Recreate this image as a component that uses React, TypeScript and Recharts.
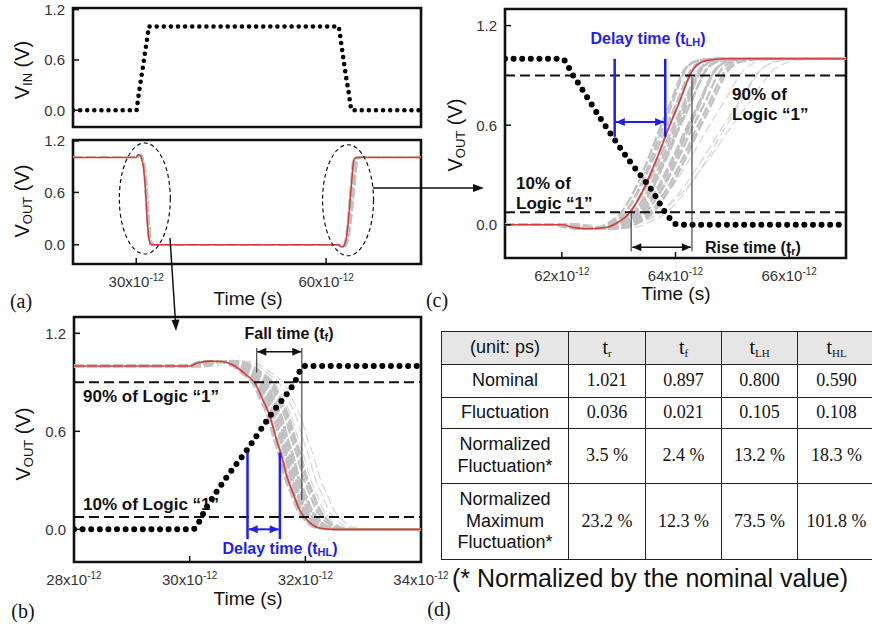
import React from "react";
import {
  LineChart, Line, XAxis, YAxis, ReferenceLine, ReferenceArea, ReferenceDot,
} from "recharts";

type Pt = { t: number; v: number };

const SANS = "'Liberation Sans', Arial, Helvetica, sans-serif";
const SERIF = "'Liberation Serif', 'Times New Roman', serif";
const RED = "#d23c3c";
const BLUE = "#1f1fe8";
const GRAY = "#c2c2c2";
const FAINT = "#d8d8d8";

// input pulse (b) and (c)  (time in ps, volts)
const VIN_RISE: Pt[] = [
  { t: 28, v: 0 }, { t: 30.05, v: 0 }, { t: 30.3, v: 0.14 }, { t: 30.6, v: 0.3 },
  { t: 31.0, v: 0.49 }, { t: 31.4, v: 0.7 }, { t: 31.8, v: 0.89 }, { t: 31.98, v: 1.0 },
  { t: 34, v: 1.0 },
];
const VIN_FALL: Pt[] = [
  { t: 61, v: 1.0 }, { t: 62.0, v: 1.0 }, { t: 62.2, v: 0.9 }, { t: 62.7, v: 0.63 },
  { t: 63.2, v: 0.38 }, { t: 63.6, v: 0.2 }, { t: 63.85, v: 0.06 }, { t: 64.05, v: 0 },
  { t: 67, v: 0 },
];

// nominal output (red)
const VOUT_FALL: Pt[] = [
  { t: 28, v: 1.0 }, { t: 30.0, v: 1.0 }, { t: 30.15, v: 1.02 }, { t: 30.35, v: 1.03 },
  { t: 30.55, v: 1.028 }, { t: 30.75, v: 1.006 }, { t: 30.98, v: 0.945 }, { t: 31.13, v: 0.894 },
  { t: 31.27, v: 0.79 }, { t: 31.39, v: 0.69 }, { t: 31.5, v: 0.55 }, { t: 31.59, v: 0.45 },
  { t: 31.68, v: 0.325 }, { t: 31.79, v: 0.22 }, { t: 31.9, v: 0.12 }, { t: 32.05, v: 0.05 },
  { t: 32.22, v: 0.01 }, { t: 32.5, v: 0 }, { t: 34, v: 0 },
];
const VOUT_RISE: Pt[] = [
  { t: 61, v: 0 }, { t: 62.0, v: 0 }, { t: 62.2, v: -0.015 }, { t: 62.4, v: -0.024 },
  { t: 62.78, v: -0.016 }, { t: 63.01, v: 0.02 }, { t: 63.16, v: 0.06 }, { t: 63.25, v: 0.1 },
  { t: 63.37, v: 0.17 }, { t: 63.49, v: 0.25 }, { t: 63.6, v: 0.34 }, { t: 63.72, v: 0.44 },
  { t: 63.84, v: 0.55 }, { t: 63.96, v: 0.65 }, { t: 64.08, v: 0.75 }, { t: 64.19, v: 0.85 },
  { t: 64.28, v: 0.92 }, { t: 64.37, v: 0.96 }, { t: 64.55, v: 0.99 }, { t: 64.85, v: 1.0 },
  { t: 67, v: 1.0 },
];

// monte-carlo runs (gray): delay offset + slope stretch of each run vs nominal
const FALL_RUN_SHIFT = [-0.04, -0.01, 0.02, 0.04, 0.06, 0.08, 0.1, 0.12, 0.14, 0.16, 0.18, 0.2, 0.23, 0.26, 0.3];
const FALL_RUN_STRETCH = [1.0, 1.03, 0.97, 1.05, 1.0, 1.04, 0.98, 1.06, 1.0, 1.05, 1.02, 1.0, 1.06, 1.08, 1.05];
const FALL_FAINT_SHIFT = [0.33, 0.4, 0.47];
const FALL_FAINT_STRETCH = [1.08, 1.1, 1.12];
const RISE_RUN_SHIFT = [-0.15, -0.1, -0.06, -0.03, 0.0, 0.03, 0.06, 0.09, 0.12, 0.15, 0.18, 0.22, 0.26, 0.3, 0.35];
const RISE_RUN_STRETCH = [1.0, 1.05, 0.95, 1.1, 1.0, 1.15, 1.05, 1.1, 1.2, 1.0, 1.15, 1.2, 1.1, 1.2, 1.2];
const RISE_FAINT_SHIFT = [0.2, 0.35, 0.5, 0.3];
const RISE_FAINT_STRETCH = [1.5, 1.6, 1.5, 1.8];

// axes
const V_TICKS = [0, 0.6, 1.2];
const A_TIME_TICKS = [30, 60];
const B_TIME_TICKS = [28, 30, 32, 34];
const C_TIME_TICKS = [62, 64, 66];

// table (d)
const COL_SUBS = ["r", "f", "LH", "HL"];
const NOMINAL = [1.021, 0.897, 0.8, 0.59];
const FLUCT = [0.036, 0.021, 0.105, 0.108];
const NORM_FLUCT = [3.5, 2.4, 13.2, 18.3];
const NORM_MAX_FLUCT = [23.2, 12.3, 73.5, 101.8];

function run(base: Pt[], t0: number, shift: number, stretch: number): Pt[] {
  return base.map((p, i) => {
    if (i === 0 || i === base.length - 1) return p;
    return { t: p.t + shift + Math.max(0, p.t - t0) * (stretch - 1), v: p.v };
  });
}

const fallRuns = FALL_RUN_SHIFT.map((s, i) => run(VOUT_FALL, 30.9, s, FALL_RUN_STRETCH[i]));
const fallFaint = FALL_FAINT_SHIFT.map((s, i) => run(VOUT_FALL, 30.9, s, FALL_FAINT_STRETCH[i]));
const riseRuns = RISE_RUN_SHIFT.map((s, i) => run(VOUT_RISE, 62.9, s, RISE_RUN_STRETCH[i]));
const riseFaint = RISE_FAINT_SHIFT.map((s, i) => run(VOUT_RISE, 62.9, s, RISE_FAINT_STRETCH[i]));

const vinFull: Pt[] = [{ t: 20, v: 0 }, ...VIN_RISE, ...VIN_FALL, { t: 75, v: 0 }];
const voutFull: Pt[] = [{ t: 20, v: 1 }, ...VOUT_FALL, ...VOUT_RISE, { t: 75, v: 1 }];
const fullRuns = fallRuns.map((r, i) => [{ t: 20, v: 1 }, ...r, ...riseRuns[i], { t: 75, v: 1 }]);

function YTick(props: any) {
  const { x, y, payload } = props;
  return (
    <g>
      <line x1={x + 7} x2={x + 13} y1={y} y2={y} stroke="#111" strokeWidth={1.5} />
      <text x={x - 1} y={y} dy="0.36em" textAnchor="end" fontSize={15} fill="#333" fontFamily={SANS}>
        {Number(payload.value).toFixed(1)}
      </text>
    </g>
  );
}

function XTick(props: any) {
  const { x, y, payload } = props;
  return (
    <g>
      <line x1={x} x2={x} y1={y - 10} y2={y - 16} stroke="#111" strokeWidth={1.5} />
      <text x={x} y={y + 2} dy="0.71em" textAnchor="middle" fontSize={15} fill="#333" fontFamily={SANS}>
        {payload.value}x10<tspan dy={-6} fontSize={10}>-12</tspan>
      </text>
    </g>
  );
}

function arrow(color: string, width: number, both = true) {
  return (p: any) => {
    const { x1, y1, x2, y2 } = p;
    const a = Math.atan2(y2 - y1, x2 - x1);
    const head = (x: number, y: number, ang: number) => {
      const bx = x - 9 * Math.cos(ang), by = y - 9 * Math.sin(ang);
      const px = 4 * Math.sin(ang), py = 4 * Math.cos(ang);
      return `${x},${y} ${bx - px},${by + py} ${bx + px},${by - py}`;
    };
    return (
      <g>
        <line x1={x1} y1={y1} x2={x2} y2={y2} stroke={color} strokeWidth={width} />
        <polygon points={head(x2, y2, a)} fill={color} />
        {both && <polygon points={head(x1, y1, a + Math.PI)} fill={color} />}
      </g>
    );
  };
}

function ellipse(rx: number, ry: number) {
  return (p: any) => (
    <ellipse cx={p.cx} cy={p.cy} rx={rx} ry={ry} fill="none" stroke="#111" strokeWidth={1.2} strokeDasharray="4 3" />
  );
}

function grayLines(runs: Pt[][], faint: Pt[][], prefix: string, w = 2.4) {
  return [
    ...faint.map((d, i) => (
      <Line key={`${prefix}f${i}`} data={d} dataKey="v" type="monotone" stroke={FAINT} strokeWidth={1.3}
        strokeDasharray="9 4" dot={false} activeDot={false} isAnimationActive={false} />
    )),
    ...runs.map((d, i) => (
      <Line key={`${prefix}r${i}`} data={d} dataKey="v" type="monotone" stroke={GRAY} strokeWidth={w}
        strokeDasharray="10 3" dot={false} activeDot={false} isAnimationActive={false} />
    )),
  ];
}

const frame = (x1: number, x2: number, y1: number, y2: number) => (
  <ReferenceArea x1={x1} x2={x2} y1={y1} y2={y2} fill="none" stroke="#111" strokeWidth={2.6} ifOverflow="visible" />
);

const dashed = { stroke: "#111", strokeWidth: 2, strokeDasharray: "10 5" };

export default function App() {
  const abs = (left: number, top: number): React.CSSProperties => ({ position: "absolute", left, top });
  const cell: React.CSSProperties = {
    border: "1.5px solid #222", padding: 0, textAlign: "center", verticalAlign: "middle",
    fontFamily: SERIF, fontSize: 18, color: "#111", lineHeight: 1.2,
  };
  const labelCell: React.CSSProperties = { ...cell, fontFamily: SANS, fontSize: 18 };
  const rows: { label: string[]; values: string[]; h: number }[] = [
    { label: ["Nominal"], values: NOMINAL.map((v) => v.toFixed(3)), h: 33 },
    { label: ["Fluctuation"], values: FLUCT.map((v) => v.toFixed(3)), h: 31 },
    { label: ["Normalized", "Fluctuation*"], values: NORM_FLUCT.map((v) => `${v.toFixed(1)} %`), h: 55 },
    { label: ["Normalized", "Maximum", "Fluctuation*"], values: NORM_MAX_FLUCT.map((v) => `${v.toFixed(1)} %`), h: 76 },
  ];

  return (
    <div style={{ position: "absolute", left: 0, top: 0, width: 872, height: 628, background: "#fff", overflow: "hidden" }}>
      {/* (a) input */}
      <div style={abs(0, 0)}>
        <LineChart width={430} height={135} margin={{ top: 8, right: 9, bottom: 8, left: 28 }}>
          <XAxis type="number" dataKey="t" domain={[20, 75]} hide allowDataOverflow />
          <YAxis type="number" domain={[-0.2, 1.22]} ticks={V_TICKS} width={45} tickSize={0} tickMargin={7}
            tickLine={false} axisLine={false} tick={<YTick />} allowDataOverflow />
          <Line data={vinFull} dataKey="v" type="linear" stroke="#000" strokeWidth={4.6} strokeDasharray="0 7.1"
            strokeLinecap="round" dot={false} activeDot={false} isAnimationActive={false} />
          {frame(20, 75, -0.2, 1.22)}
        </LineChart>
      </div>

      {/* (a) output */}
      <div style={abs(0, 132)}>
        <LineChart width={430} height={160} margin={{ top: 8, right: 9, bottom: 0, left: 28 }}>
          <XAxis type="number" dataKey="t" domain={[20, 75]} ticks={A_TIME_TICKS} height={28} tickSize={0}
            tickMargin={10} tickLine={false} axisLine={false} tick={<XTick />} allowDataOverflow />
          <YAxis type="number" domain={[-0.22, 1.2]} ticks={V_TICKS} width={45} tickSize={0} tickMargin={7}
            tickLine={false} axisLine={false} tick={<YTick />} allowDataOverflow />
          {grayLines(fullRuns, [], "a", 1.3)}
          <Line data={voutFull} dataKey="v" type="monotone" stroke={RED} strokeWidth={1.5}
            dot={false} activeDot={false} isAnimationActive={false} />
          <ReferenceDot x={31.35} y={0.53} shape={ellipse(25.5, 55.5)} />
          <ReferenceDot x={63.47} y={0.51} shape={ellipse(25.5, 55.5)} />
          {frame(20, 75, -0.22, 1.2)}
        </LineChart>
      </div>

      {/* (b) falling output */}
      <div style={abs(0, 309)}>
        <LineChart width={460} height={285} margin={{ top: 8, right: 39, bottom: 4, left: 29 }}>
          <XAxis type="number" dataKey="t" domain={[28, 34]} ticks={B_TIME_TICKS} height={28} tickSize={0}
            tickMargin={10} tickLine={false} axisLine={false} tick={<XTick />} allowDataOverflow />
          <YAxis type="number" domain={[-0.2, 1.3]} ticks={V_TICKS} width={45} tickSize={0} tickMargin={7}
            tickLine={false} axisLine={false} tick={<YTick />} allowDataOverflow />
          {grayLines(fallRuns, fallFaint, "b")}
          <Line data={VOUT_FALL} dataKey="v" type="monotone" stroke={RED} strokeWidth={1.6}
            dot={false} activeDot={false} isAnimationActive={false} />
          <ReferenceLine y={0.9} {...dashed} />
          <ReferenceLine y={0.075} {...dashed} />
          <Line data={VIN_RISE} dataKey="v" type="monotone" stroke="#000" strokeWidth={6} strokeDasharray="0 8.6"
            strokeLinecap="round" dot={false} activeDot={false} isAnimationActive={false} />
          <ReferenceLine segment={[{ x: 31.16, y: 1.11 }, { x: 31.16, y: 0.96 }]} stroke="#222" strokeWidth={1} />
          <ReferenceLine segment={[{ x: 31.94, y: 1.11 }, { x: 31.94, y: 0.18 }]} stroke="#222" strokeWidth={1} />
          <ReferenceLine segment={[{ x: 31.17, y: 1.087 }, { x: 31.93, y: 1.087 }]} shape={arrow("#111", 1.5)} />
          <ReferenceLine segment={[{ x: 31.0, y: 0.47 }, { x: 31.0, y: -0.06 }]} stroke={BLUE} strokeWidth={2.5} />
          <ReferenceLine segment={[{ x: 31.56, y: 0.47 }, { x: 31.56, y: -0.06 }]} stroke={BLUE} strokeWidth={2.5} />
          <ReferenceLine segment={[{ x: 31.02, y: 0.0 }, { x: 31.54, y: 0.0 }]} shape={arrow(BLUE, 2)} />
          {frame(28, 34, -0.2, 1.3)}
        </LineChart>
      </div>

      {/* (c) rising output */}
      <div style={abs(440, 0)}>
        <LineChart width={432} height={286} margin={{ top: 9, right: 26, bottom: 0, left: 20 }}>
          <XAxis type="number" dataKey="t" domain={[61, 67]} ticks={C_TIME_TICKS} height={28} tickSize={0}
            tickMargin={10} tickLine={false} axisLine={false} tick={<XTick />} allowDataOverflow />
          <YAxis type="number" domain={[-0.2, 1.3]} ticks={V_TICKS} width={45} tickSize={0} tickMargin={7}
            tickLine={false} axisLine={false} tick={<YTick />} allowDataOverflow />
          {grayLines(riseRuns, riseFaint, "c")}
          <Line data={VOUT_RISE} dataKey="v" type="monotone" stroke={RED} strokeWidth={1.6}
            dot={false} activeDot={false} isAnimationActive={false} />
          <ReferenceLine y={0.9} {...dashed} />
          <ReferenceLine y={0.075} {...dashed} />
          <Line data={VIN_FALL} dataKey="v" type="monotone" stroke="#000" strokeWidth={6} strokeDasharray="0 8.6"
            strokeLinecap="round" dot={false} activeDot={false} isAnimationActive={false} />
          <ReferenceLine segment={[{ x: 62.93, y: 1.0 }, { x: 62.93, y: 0.53 }]} stroke={BLUE} strokeWidth={2.5} />
          <ReferenceLine segment={[{ x: 63.82, y: 1.0 }, { x: 63.82, y: 0.53 }]} stroke={BLUE} strokeWidth={2.5} />
          <ReferenceLine segment={[{ x: 62.95, y: 0.62 }, { x: 63.8, y: 0.62 }]} shape={arrow(BLUE, 2)} />
          <ReferenceLine segment={[{ x: 63.22, y: 0.07 }, { x: 63.22, y: -0.16 }]} stroke="#222" strokeWidth={1} />
          <ReferenceLine segment={[{ x: 64.29, y: 0.89 }, { x: 64.29, y: -0.16 }]} stroke="#222" strokeWidth={1} />
          <ReferenceLine segment={[{ x: 63.24, y: -0.135 }, { x: 64.27, y: -0.135 }]} shape={arrow("#111", 1.5)} />
          {frame(61, 67, -0.2, 1.3)}
        </LineChart>
      </div>

      {/* titles, panel letters, annotations */}
      <svg width={872} height={628} style={{ position: "absolute", left: 0, top: 0, pointerEvents: "none" }}>
        <g fontFamily={SANS} fill="#111" fontSize={20}>
          <text x={22} y={70} transform="rotate(-90 22 70)" textAnchor="middle" dominantBaseline="central">
            V<tspan fontSize={13} dy={5}>IN</tspan><tspan dy={-5}> (V)</tspan>
          </text>
          <text x={22} y={201} transform="rotate(-90 22 201)" textAnchor="middle" dominantBaseline="central">
            V<tspan fontSize={13} dy={5}>OUT</tspan><tspan dy={-5}> (V)</tspan>
          </text>
          <text x={23} y={444} transform="rotate(-90 23 444)" textAnchor="middle" dominantBaseline="central">
            V<tspan fontSize={13} dy={5}>OUT</tspan><tspan dy={-5}> (V)</tspan>
          </text>
          <text x={455} y={135} transform="rotate(-90 455 135)" textAnchor="middle" dominantBaseline="central">
            V<tspan fontSize={13} dy={5}>OUT</tspan><tspan dy={-5}> (V)</tspan>
          </text>
          <text x={248} y={298} fontSize={19} textAnchor="middle" dominantBaseline="central">Time (s)</text>
          <text x={248} y={598} fontSize={19} textAnchor="middle" dominantBaseline="central">Time (s)</text>
          <text x={676} y={293} fontSize={19} textAnchor="middle" dominantBaseline="central">Time (s)</text>
        </g>
        <g fontFamily={SERIF} fill="#111" fontSize={20}>
          <text x={21} y={301} textAnchor="middle" dominantBaseline="central">(a)</text>
          <text x={23} y={611} textAnchor="middle" dominantBaseline="central">(b)</text>
          <text x={437} y={300} textAnchor="middle" dominantBaseline="central">(c)</text>
          <text x={439} y={609} textAnchor="middle" dominantBaseline="central">(d)</text>
        </g>
        <g fontFamily={SANS} fontWeight="bold" fill="#111" fontSize={16} dominantBaseline="central">
          <text x={289} y={333} textAnchor="middle">Fall time (t<tspan fontSize={11} dy={4}>f</tspan><tspan dy={-4}>)</tspan></text>
          <text x={83} y={396} fontSize={17}>90% of Logic “1”</text>
          <text x={83} y={504} fontSize={17}>10% of Logic “1”</text>
          <text x={280} y={548} textAnchor="middle" fill={BLUE}>Delay time (t<tspan fontSize={11} dy={4}>HL</tspan><tspan dy={-4}>)</tspan></text>
          <text x={648} y={38} textAnchor="middle" fill={BLUE}>Delay time (t<tspan fontSize={11} dy={4}>LH</tspan><tspan dy={-4}>)</tspan></text>
          <text x={732} y={94} fontSize={17}>90% of</text>
          <text x={732} y={114} fontSize={17}>Logic “1”</text>
          <text x={516} y={183} fontSize={17}>10% of</text>
          <text x={516} y={203} fontSize={17}>Logic “1”</text>
          <text x={705} y={247}>Rise time (t<tspan fontSize={11} dy={4}>r</tspan><tspan dy={-4}>)</tspan></text>
        </g>
        <g stroke="#111" strokeWidth={1.5} fill="#111">
          <line x1={170} y1={238} x2={175.5} y2={322} />
          <polygon points="176,331 171.5,320 179.5,319.5" stroke="none" />
          <line x1={373} y1={188} x2={475} y2={188} />
          <polygon points="484,188 473,184 473,192" stroke="none" />
        </g>
      </svg>

      {/* (d) table */}
      <table style={{ position: "absolute", left: 441, top: 331, borderCollapse: "collapse", tableLayout: "fixed", width: 434 }}>
        <colgroup>
          <col style={{ width: 127 }} />
          <col style={{ width: 77 }} />
          <col style={{ width: 76 }} />
          <col style={{ width: 76 }} />
          <col style={{ width: 78 }} />
        </colgroup>
        <tbody>
          <tr style={{ height: 33, background: "#e6e6e6" }}>
            <td style={labelCell}>(unit: ps)</td>
            {COL_SUBS.map((s) => (
              <td key={s} style={{ ...cell, fontSize: 20 }}>
                t<sub style={{ fontSize: 11, verticalAlign: "-0.3em" }}>{s}</sub>
              </td>
            ))}
          </tr>
          {rows.map((r) => (
            <tr key={r.label.join(" ")} style={{ height: r.h }}>
              <td style={labelCell}>
                {r.label.map((l) => <div key={l}>{l}</div>)}
              </td>
              {r.values.map((v, i) => <td key={i} style={cell}>{v}</td>)}
            </tr>
          ))}
        </tbody>
      </table>
      <div style={{ position: "absolute", left: 452, top: 564, fontFamily: SANS, fontSize: 25, color: "#111", whiteSpace: "nowrap" }}>
        (* Normalized by the nominal value)
      </div>
    </div>
  );
}
